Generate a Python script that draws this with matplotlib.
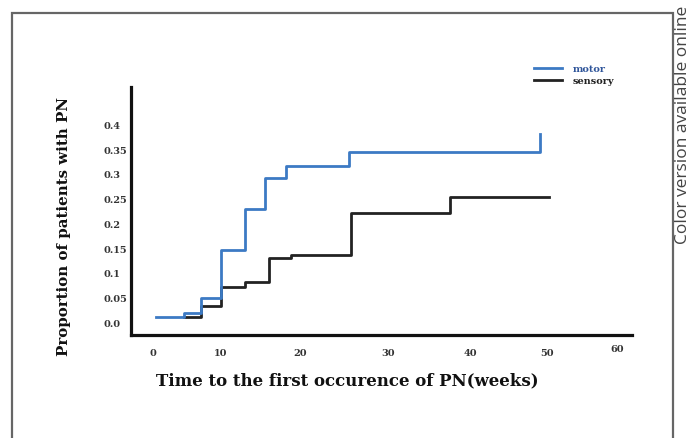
import numpy as np
import matplotlib
matplotlib.use("Agg")
import matplotlib.pyplot as plt
from matplotlib.patches import Rectangle

# time (weeks) of each step and proportion after the step
motor_weeks = [0.5, 4.6, 7.0, 10.0, 13.0, 15.6, 18.2, 25.6, 49.1]
motor_prop = [0.013, 0.021, 0.052, 0.148, 0.230, 0.294, 0.318, 0.347, 0.382]
sensory_weeks = [4.6, 7.0, 10.0, 13.0, 16.1, 18.8, 25.8, 37.5, 50.3]
sensory_prop = [0.013, 0.035, 0.074, 0.084, 0.131, 0.138, 0.223, 0.255, 0.255]

x_ticks = [0, 10, 20, 30, 40, 50, 60]
y_ticks = [0.0, 0.05, 0.1, 0.15, 0.2, 0.25, 0.3, 0.35, 0.4]
y_tick_labels = ["0.0", "0.05", "0.1", "0.15", "0.2", "0.25", "0.3", "0.35", "0.4"]

# the x axis of the original figure is unevenly spaced; these are the
# pixel columns where each week label sits
knot_weeks = [-10, 0, 10, 20, 30, 40, 50, 60, 70]
knot_px = [85, 153, 221, 300, 388, 470, 547, 617, 687]


def fwd(x):
    return np.interp(x, knot_weeks, knot_px)


def inv(p):
    return np.interp(p, knot_px, knot_weeks)


W, H = 691, 438
fig = plt.figure(figsize=(W / 100, H / 100), dpi=100)
fig.patch.set_facecolor("white")

serif = "DejaVu Serif"

# outer frame of the figure panel
fig.patches.append(Rectangle((12 / W, -0.05), (673 - 12) / W, (H - 13) / H + 0.05,
                             transform=fig.transFigure, fill=False,
                             edgecolor="#666666", linewidth=1.6))
fig.text(683 / W, 1 - 6 / H, "Color version available online", rotation=90,
         ha="center", va="top", fontsize=12.5, color="#444444", family="Open Sans")

ax = fig.add_axes([131 / W, (H - 335) / H, (632 - 131) / W, (335 - 87) / H])
ax.set_xscale("function", functions=(fwd, inv))
ax.set_xlim(inv(131), inv(632))
ax.set_ylim(-0.0236, 0.4774)

ax.step(sensory_weeks, sensory_prop, where="post", color="#222222", lw=2.0, label="sensory")
ax.step(motor_weeks, motor_prop, where="post", color="#3c7ac4", lw=2.0, label="motor")

for s in ["top", "right"]:
    ax.spines[s].set_visible(False)
for s in ["left", "bottom"]:
    ax.spines[s].set_linewidth(2.3)
    ax.spines[s].set_color("#111111")

ax.set_xticks(x_ticks)
ax.set_xticklabels([str(v) for v in x_ticks], family=serif, fontsize=7,
                   fontweight="bold", color="#333333")
ax.set_yticks(y_ticks)
ax.set_yticklabels(y_tick_labels, family=serif, fontsize=7, fontweight="bold",
                   color="#333333", ha="left")
ax.tick_params(axis="x", length=0, pad=10)
ax.tick_params(axis="y", length=0, pad=20)
ax.minorticks_off()
ax.xaxis.get_major_ticks()[-1].set_pad(7)

ax.set_xlabel("Time to the first occurence of PN(weeks)", family=serif, fontsize=12,
              fontweight="bold", color="#111111")
ax.set_ylabel("Proportion of patients with PN", family=serif, fontsize=10.8,
              fontweight="bold", color="#111111")
ax.xaxis.set_label_coords((347 - 131) / (632 - 131), -(372 - 335) / (335 - 87))
ax.yaxis.set_label_coords(-(131 - 71) / (632 - 131), (335 - 227) / (335 - 87))

handles, labels = ax.get_legend_handles_labels()
leg = ax.legend(handles[::-1], labels[::-1], loc="upper left",
                bbox_to_anchor=(525 / W, 1 - 56 / H), bbox_transform=fig.transFigure,
                frameon=False, prop={"family": serif, "size": 7, "weight": "bold"},
                handlelength=2.9, handletextpad=1.1, labelspacing=0.3)
leg.get_texts()[0].set_color("#2f559a")
leg.get_texts()[1].set_color("#222222")

fig.savefig("out.png", dpi=100)
